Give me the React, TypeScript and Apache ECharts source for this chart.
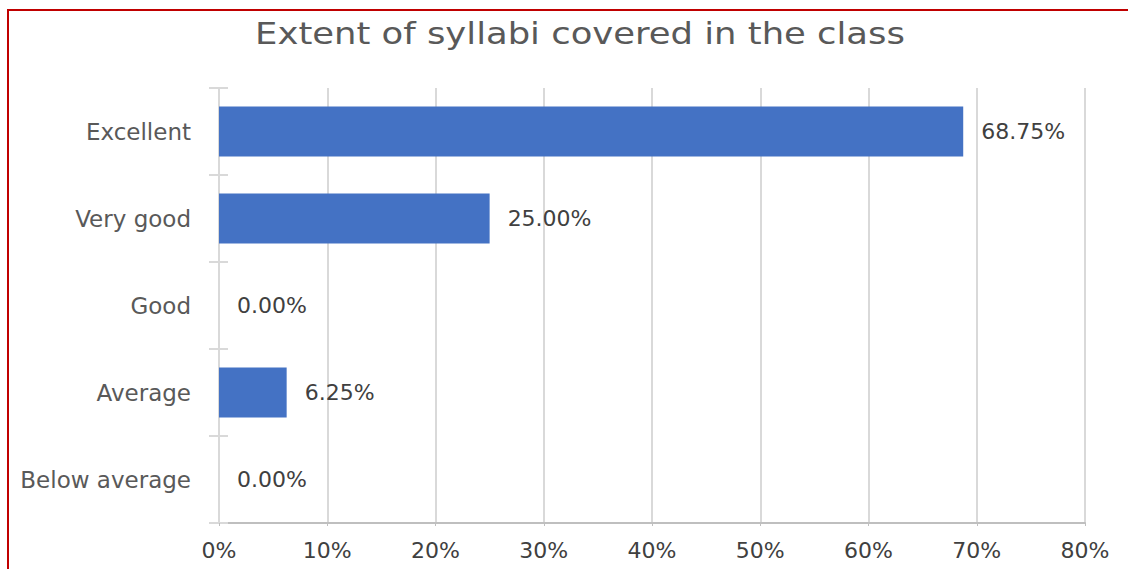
import React, { useEffect, useRef } from "react";
import * as echarts from "echarts";

const categories = ["Excellent", "Very good", "Good", "Average", "Below average"];
const values = [68.75, 25.0, 0.0, 6.25, 0.0];
const xTicks = [0, 10, 20, 30, 40, 50, 60, 70, 80];
const titleText = "Extent of syllabi covered in the class";

export default function App() {
  const ref = useRef<HTMLDivElement>(null);
  useEffect(() => {
    if (!ref.current) return;
    const chart = echarts.init(ref.current, undefined, { renderer: "svg" });
    const font = "DejaVu Sans";
    chart.setOption({
      animation: false,
      backgroundColor: "#ffffff",
      textStyle: { fontFamily: font },
      graphic: [
        {
          type: "rect",
          shape: { x: 8, y: 10, width: 1140, height: 580 },
          style: { fill: "none", stroke: "#C00000", lineWidth: 2 },
          z: 10,
        },
        {
          type: "text",
          x: 580,
          y: 34,
          scaleX: 1.18,
          style: {
            text: titleText,
            fill: "#595959",
            font: `30px "${font}"`,
            textAlign: "center",
            textVerticalAlign: "middle",
          },
        },
      ],
      grid: { left: 219, right: 43, top: 88, bottom: 46, containLabel: false },
      xAxis: {
        type: "value",
        min: xTicks[0],
        max: xTicks[xTicks.length - 1],
        interval: 10,
        axisLine: { show: true, lineStyle: { color: "#bfbfbf", width: 2 } },
        axisTick: { show: true, length: 3, lineStyle: { color: "#bfbfbf" } },
        splitLine: { show: true, lineStyle: { color: "#d9d9d9", width: 2 } },
        axisLabel: {
          formatter: (v: number) => `${v}%`,
          color: "#404040",
          fontSize: 22,
          fontFamily: font,
          margin: 16,
        },
      },
      yAxis: [
        {
          type: "category",
          data: categories,
          inverse: true,
          axisLine: { show: true, lineStyle: { color: "#d9d9d9", width: 2 } },
          axisTick: { show: true, length: 10, alignWithLabel: false, lineStyle: { color: "#d9d9d9", width: 2 } },
          axisLabel: { color: "#595959", fontSize: 23, fontFamily: font, margin: 28 },
        },
        {
          type: "category",
          data: categories,
          inverse: true,
          position: "left",
          axisLine: { show: false },
          axisTick: { show: true, inside: true, length: 9, alignWithLabel: false, lineStyle: { color: "#d9d9d9", width: 2 } },
          axisLabel: { show: false },
        },
      ],
      series: [
        {
          type: "bar",
          data: values,
          barWidth: 50,
          itemStyle: { color: "#4472C4" },
          label: {
            show: true,
            position: "right",
            distance: 18,
            color: "#404040",
            fontSize: 22,
            fontFamily: font,
            formatter: (p: any) => `${Number(p.value).toFixed(2)}%`,
          },
        },
      ],
    });
    return () => chart.dispose();
  }, []);
  return (
    <div
      ref={ref}
      style={{ position: "absolute", left: 0, top: 0, width: 1128, height: 569 }}
    />
  );
}
